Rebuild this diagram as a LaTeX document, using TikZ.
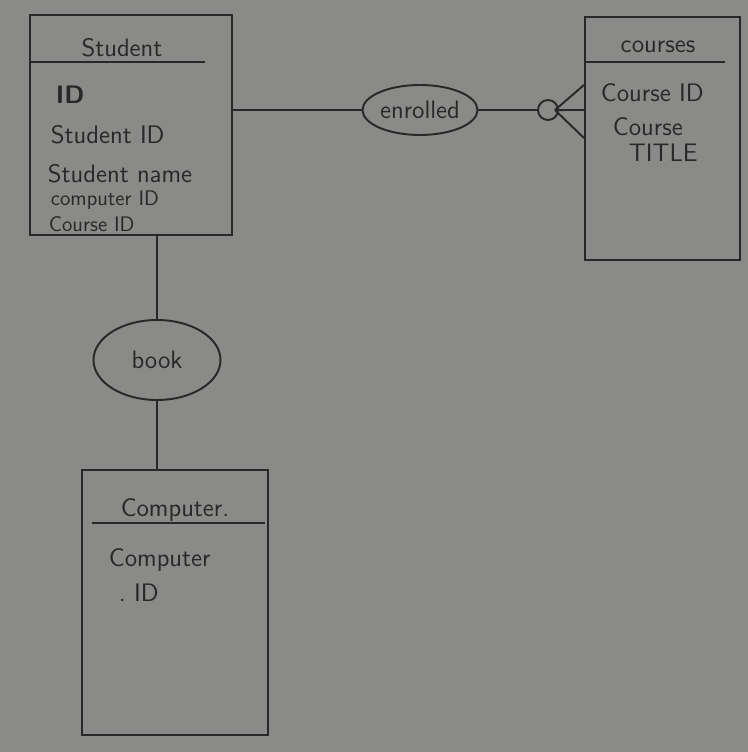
\documentclass[tikz,border=0pt]{standalone}
\usepackage{amsmath, amssymb}
\usetikzlibrary{shapes}

\definecolor{paper}{RGB}{138,138,136}
\definecolor{pencil}{RGB}{40,40,40}

\begin{document}
\begin{tikzpicture}[scale = 10, font=\sffamily, color = pencil, line width = 1.1pt]
	\tikzstyle{entityStyle} = [shape = rectangle, draw, inner sep = 0pt]
	\tikzstyle{relationStyle} = [shape = ellipse, draw, inner sep = 0pt, font = \sffamily\Large]
	\tikzstyle{headStyle} = [font = \sffamily\Large]
	\tikzstyle{attrStyle} = [anchor = west, inner sep = 0pt, font = \sffamily\Large]
	\tikzstyle{tightStyle} = [anchor = west, inner sep = 0pt, font = \sffamily\large]
	\tikzstyle{optStyle} = [shape = circle, draw, minimum size = 0.4cm, inner sep = 0pt]
	% paper
	\fill[paper] (0, 0) rectangle (1.496, 1.504);
	\useasboundingbox (0, 0) rectangle (1.496, 1.504);
	% entities
	\node[entityStyle, minimum width = 4.04cm, minimum height = 4.4cm] (student) at (0.262, 1.254) {};
	\node[entityStyle, minimum width = 3.1cm, minimum height = 4.86cm] (courses) at (1.325, 1.227) {};
	\node[entityStyle, minimum width = 3.72cm, minimum height = 5.3cm] (computer) at (0.35, 0.299) {};
	% headers
	\node[headStyle] (studentHead) at (0.244, 1.408) {Student};
	\node[headStyle] (coursesHead) at (1.316, 1.41) {courses};
	\node[headStyle] (computerHead) at (0.35, 0.484) {Computer.};
	\draw (0.06, 1.38) -- (0.41, 1.38);
	\draw (1.17, 1.38) -- (1.45, 1.38);
	\draw (0.184, 0.458) -- (0.53, 0.458);
	% attributes
	\node[attrStyle] (sID0) at (0.11, 1.314) {\textbf{ID}};
	\node[attrStyle] (sID) at (0.10, 1.234) {Student ID};
	\node[attrStyle] (sName) at (0.094, 1.156) {Student name};
	\node[tightStyle] (sComp) at (0.10, 1.103) {computer ID};
	\node[tightStyle] (sCourse) at (0.096, 1.056) {Course ID};
	\node[attrStyle] (cID) at (1.20, 1.318) {Course ID};
	\node[attrStyle] (cTitleA) at (1.224, 1.25) {Course};
	\node[attrStyle] (cTitleB) at (1.256, 1.198) {TITLE};
	\node[attrStyle] (pName) at (0.216, 0.384) {Computer};
	\node[attrStyle] (pID) at (0.236, 0.318) {.\ ID};
	% relationships
	\node[relationStyle, minimum width = 2.3cm, minimum height = 1.0cm] (enrolled) at (0.84, 1.284) {enrolled};
	\node[relationStyle, minimum width = 2.54cm, minimum height = 1.6cm] (book) at (0.314, 0.784) {book};
	\node[optStyle] (opt) at (1.096, 1.284) {};
	\coordinate (crow) at (1.11, 1.284);
	% links
	\draw (enrolled.west -| student.east) -- (enrolled.west);
	\draw (enrolled.east) -- (opt.west);
	\foreach \yy in {1.334, 1.284, 1.228}
		\draw (crow) -- (courses.west |- 0, \yy);
	\draw (book.north |- student.south) -- (book.north);
	\draw (book.south) -- (book.south |- computer.north);
\end{tikzpicture}
\end{document}
